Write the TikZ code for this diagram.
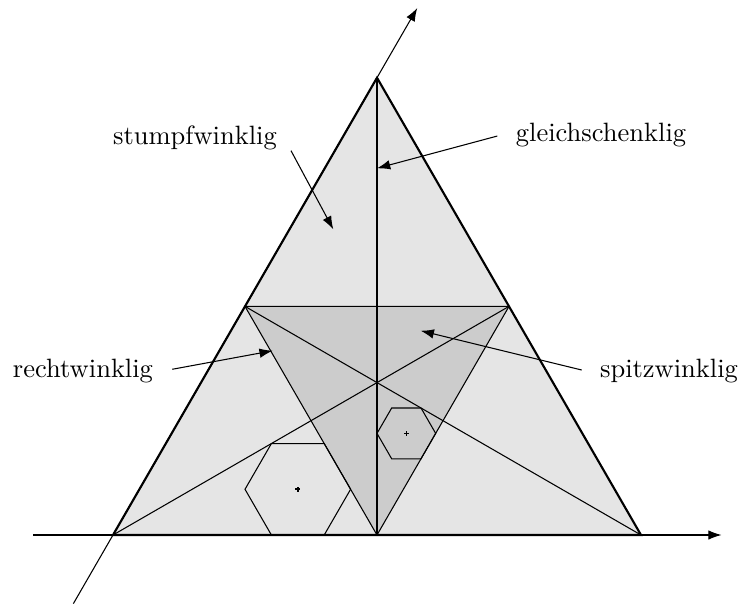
\documentclass[tikz,border=0pt]{standalone}
\usepackage{tikz}
\usetikzlibrary{calc,arrows.meta}

\begin{document}
\begin{tikzpicture}[scale=0.875,>={Latex[length=5pt,width=3.6pt]}]
\useasboundingbox (-1.712,-1.045) rectangle (9.545,8.106);
\coordinate (A) at (0,0);
\coordinate (B) at (8,0);
\coordinate (C) at (4,6.928);
\coordinate (Mab) at (4,0);
\coordinate (Mbc) at (6,3.464);
\coordinate (Mca) at (2,3.464);
\fill[gray!20] (A)--(B)--(C)--cycle;
\fill[gray!40] (Mab)--(Mbc)--(Mca)--cycle;
\draw (Mab)--(Mbc)--(Mca)--cycle;
\draw (C)--(Mab);
\draw (A)--(Mbc);
\draw (B)--(Mca);
\draw (2.8,0.6928)++(0:0.8)--++(120:0.8)--++(180:0.8)--++(240:0.8)--++(300:0.8)--++(0:0.8)--cycle;
\draw (4.4444,1.5396)++(0:0.4444)--++(120:0.4444)--++(180:0.4444)--++(240:0.4444)--++(300:0.4444)--++(0:0.4444)--cycle;
\draw[line width=0.6pt] (2.765,0.6928)--(2.835,0.6928) (2.8,0.6578)--(2.8,0.7278);
\draw[line width=0.6pt] (4.4094,1.5396)--(4.4794,1.5396) (4.4444,1.5046)--(4.4444,1.5746);
\draw[thick] (A)--(B)--(C)--cycle;
\draw[->] (-1.212,0)--(9.22,0);
\draw[->] (-0.6,-1.039)--(4.61,7.985);
\node (stumpf) at (1.242,6.015) {stumpfwinklig};
\node (gleich) at (7.394,6.06) {gleichschenklig};
\node (recht) at (-0.455,2.485) {rechtwinklig};
\node (spitz) at (8.424,2.485) {spitzwinklig};
\coordinate (s1) at (2.697,5.823);
\coordinate (s2) at (3.338,4.630);
\coordinate (g1) at (5.823,6.045);
\coordinate (g2) at (4.0,5.556);
\coordinate (r1) at (0.898,2.511);
\coordinate (r2) at (2.42,2.792);
\coordinate (p1) at (7.101,2.5);
\coordinate (p2) at (4.662,3.095);
\draw[->] (s1)--(s2);
\draw[->] (g1)--(g2);
\draw[->] (r1)--(r2);
\draw[->] (p1)--(p2);
\end{tikzpicture}
\end{document}
